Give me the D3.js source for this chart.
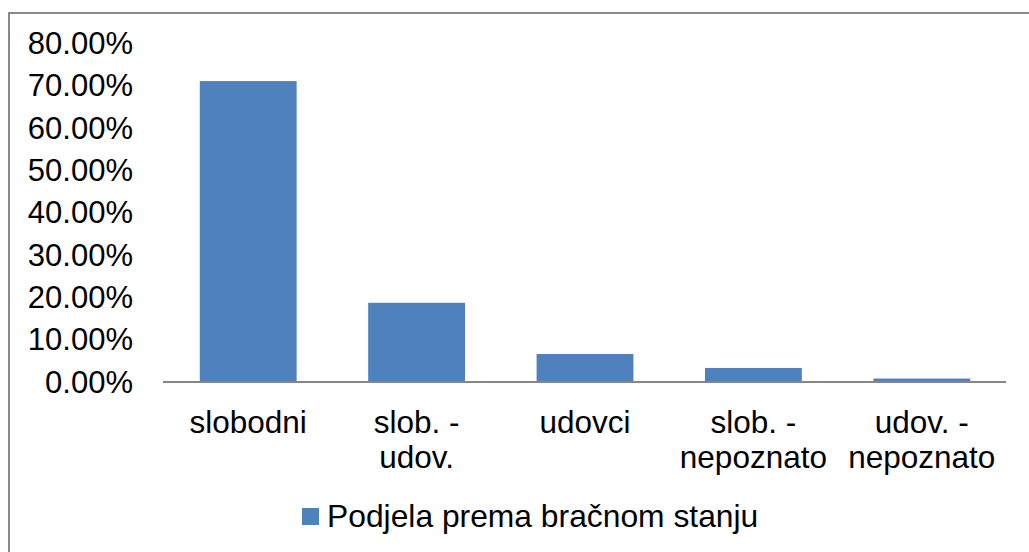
<!DOCTYPE html>
<html>
<head>
<meta charset="utf-8">
<script src="https://cdn.jsdelivr.net/npm/d3@7"></script>
<style>
  body { margin: 0; background: #fff; }
  svg { display: block; font-family: "Liberation Sans", Arial, sans-serif; }
</style>
</head>
<body>
<svg id="chart" width="1029" height="552"></svg>
<script>
// data
var categories = [["slobodni"], ["slob. -", "udov."], ["udovci"], ["slob. -", "nepoznato"], ["udov. -", "nepoznato"]];
var values = [0.710, 0.186, 0.065, 0.032, 0.007];
var yTicks = [0, 0.1, 0.2, 0.3, 0.4, 0.5, 0.6, 0.7, 0.8];
var seriesName = "Podjela prema bračnom stanju";

var barColor = "#4F81BD";
var svg = d3.select("#chart");

// outer frame (right and bottom edges fall outside the picture)
svg.append("rect")
  .attr("x", 9).attr("y", 13)
  .attr("width", 1100).attr("height", 600)
  .attr("fill", "none")
  .attr("stroke", "#898989")
  .attr("stroke-width", 2);

var x = d3.scaleBand()
  .domain(d3.range(categories.length))
  .range([164, 1006])
  .paddingInner(0.425)
  .paddingOuter(0.2125);

var y = d3.scaleLinear()
  .domain([0, 0.8])
  .range([381.5, 43]);

// y labels
svg.append("g").selectAll("text")
  .data(yTicks)
  .enter().append("text")
  .attr("x", 133)
  .attr("y", function (d) { return y(d); })
  .attr("dy", "0.36em")
  .attr("text-anchor", "end")
  .attr("font-size", "31px")
  .attr("fill", "#000")
  .text(function (d) { return d3.format(".2%")(d); });

// bars
svg.append("g").selectAll("rect")
  .data(values)
  .enter().append("rect")
  .attr("x", function (d, i) { return x(i); })
  .attr("y", function (d) { return y(d); })
  .attr("width", x.bandwidth())
  .attr("height", function (d) { return y(0) - y(d); })
  .attr("fill", barColor);

// baseline
svg.append("line")
  .attr("x1", 163).attr("x2", 1006)
  .attr("y1", y(0) + 0.5).attr("y2", y(0) + 0.5)
  .attr("stroke", "#868686")
  .attr("stroke-width", 2);

// category labels
var lab = svg.append("g").selectAll("text")
  .data(categories)
  .enter().append("text")
  .attr("text-anchor", "middle")
  .attr("font-size", "31.5px")
  .attr("fill", "#000");
lab.each(function (lines, i) {
  var t = d3.select(this);
  lines.forEach(function (s, j) {
    t.append("tspan")
      .attr("x", x(i) + x.bandwidth() / 2)
      .attr("y", 433 + j * 35)
      .text(s);
  });
});

// legend
svg.append("rect")
  .attr("x", 302).attr("y", 508)
  .attr("width", 17).attr("height", 17)
  .attr("fill", barColor);
svg.append("text")
  .attr("x", 327).attr("y", 527)
  .attr("font-size", "31.8px")
  .attr("fill", "#000")
  .text(seriesName);
</script>
</body>
</html>
